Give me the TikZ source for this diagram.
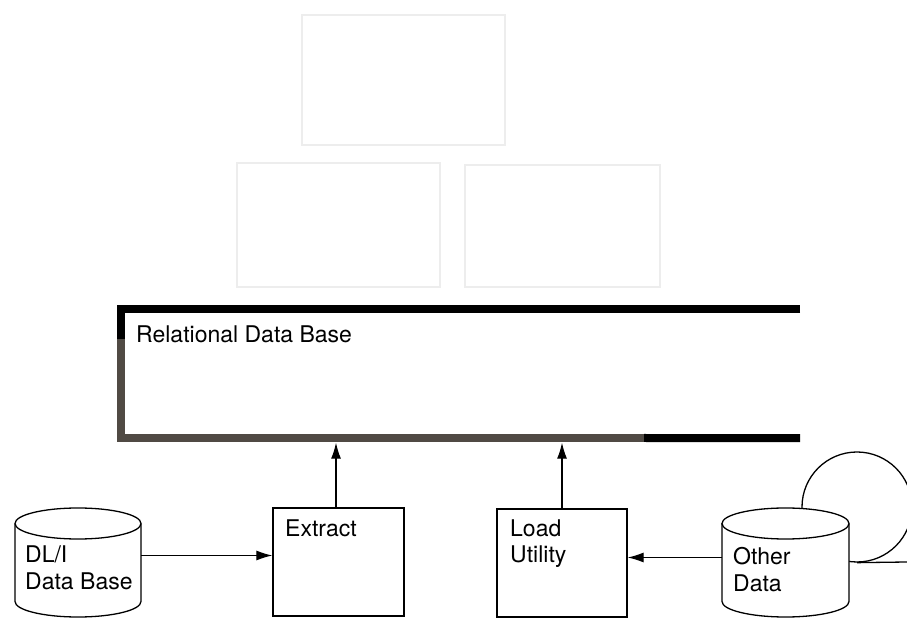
\documentclass[tikz,border=0pt]{standalone}
\usepackage{fontspec}
\setmainfont{TeX Gyre Heros}
\usetikzlibrary{arrows.meta}
\definecolor{framegray}{RGB}{80,74,68}
\tikzset{
  faint/.style={draw=gray!14,line width=1.5pt},
  procbox/.style={draw,line width=1.3pt,minimum width=131pt,minimum height=108pt,inner sep=0pt},
  cylarea/.style={inner sep=0pt,minimum width=126pt,minimum height=109pt},
  txt/.style={anchor=base west,inner sep=0pt,font=\fontsize{23}{27}\selectfont},
  flow/.style={line width=1.2pt,-{Latex[length=16pt,width=10pt]}},
}
\begin{document}
\begin{tikzpicture}[x=10pt,y=10pt]
  \useasboundingbox (0,0) rectangle (90.7,61.8);
  % faint boxes on top
  \draw[faint] (30.2,47.3) rectangle (50.5,60.3);
  \draw[faint] (23.7,33.1) rectangle (44.0,45.5);
  \draw[faint] (46.5,33.1) rectangle (66.0,45.3);
  % relational data base
  \node[inner sep=0pt,minimum width=679pt,minimum height=129pt] (rdb) at (46.05,24.45) {};
  \draw[line width=8pt] (rdb.north east) -- (rdb.north west) -- ++(0,-3.0);
  \draw[line width=8pt,framegray] ([yshift=-30pt]rdb.north west) -- (rdb.south west) -- ++(52.3,0);
  \draw[line width=8pt] (64.4,18.0) -- (rdb.south east);
  \node[txt] (rdbtext) at (13.6,27.53) {Relational Data Base};
  % boxes
  \node[procbox] (ext) at (33.85,5.6) {};
  \node[txt] (exttext) at (28.5,8.1) {Extract};
  \node[procbox,minimum width=130pt] (ld) at (56.2,5.5) {};
  \node[txt] (ldtext) at (51.0,8.1) {Load};
  \node[txt] (ldtext2) at (51.0,5.5) {Utility};
  % DL/I data base
  \node[cylarea] (dli) at (7.8,5.55) {};
  \filldraw[fill=white,line width=1.3pt] (1.5,9.45) -- (1.5,1.65)
    arc[start angle=180,end angle=360,x radius=6.3,y radius=1.55] -- (14.1,9.45)
    arc[start angle=0,end angle=180,x radius=6.3,y radius=1.55] -- cycle;
  \draw[line width=1.3pt] (1.5,9.45) arc[start angle=180,end angle=360,x radius=6.3,y radius=1.55];
  \node[txt] (dlitext) at (2.5,5.5) {DL/I};
  \node[txt] (dlitext2) at (2.5,2.8) {Data Base};
  % tape and other data
  \node[draw,circle,line width=1.3pt,minimum size=110pt,inner sep=0pt] (tape) at (85.7,11.1) {};
  \coordinate (tapeend) at (90.7,5.6);
  \draw[line width=1.3pt] (tape.south) -- (tapeend);
  \node[cylarea,minimum width=127pt] (oth) at (78.55,5.55) {};
  \filldraw[fill=white,line width=1.3pt] (72.2,9.45) -- (72.2,1.65)
    arc[start angle=180,end angle=360,x radius=6.35,y radius=1.55] -- (84.9,9.45)
    arc[start angle=0,end angle=180,x radius=6.35,y radius=1.55] -- cycle;
  \draw[line width=1.3pt] (72.2,9.45) arc[start angle=180,end angle=360,x radius=6.35,y radius=1.55];
  \node[txt] (othtext) at (73.3,5.3) {Other};
  \node[txt] (othtext2) at (73.3,2.6) {Data};
  % arrows
  \draw[flow] ([yshift=7pt]dli.east) -- ([yshift=7pt]dli.east -| ext.west);
  \draw[flow,shorten >=4.5pt] ([xshift=-2.5pt]ext.north) -- ([xshift=-2.5pt]ext.north |- rdb.south);
  \draw[flow,shorten >=4.5pt] (ld.north) -- (ld.north |- rdb.south);
  \draw[flow] ([yshift=5pt]oth.west) -- ([yshift=5pt]oth.west -| ld.east);
\end{tikzpicture}
\end{document}
